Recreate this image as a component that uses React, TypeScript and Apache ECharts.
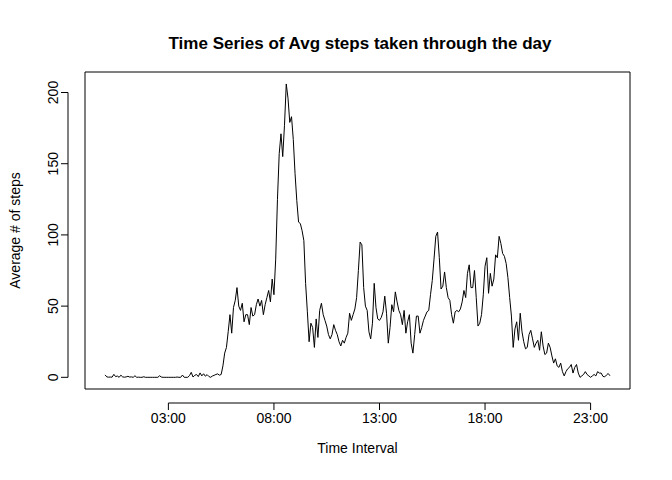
import React, { useEffect, useRef } from 'react';
import * as echarts from 'echarts';

// average steps per 5-minute interval, one row per hour (00:00 .. 23:55)
const avgSteps: number[] = [
  1.7, 0.3, 0.1, 0.2, 0.1, 2.1, 0.5, 0.9, 0, 1.5, 0.3, 0.1,
  0.3, 0.7, 0.2, 0.3, 0, 1.1, 0, 0.1, 0, 0, 0.4, 0,
  0, 0, 0, 0, 0, 0, 0, 1.1, 0.2, 0, 0, 0,
  0, 0, 0, 0, 0, 0.2, 0, 0, 1.6, 0, 0, 0,
  1.2, 3.5, 0.2, 1.4, 2.0, 0.5, 3.1, 1.0, 2.5, 0.8, 1.9, 0.6,
  0, 0.9, 1.4, 2.0, 2.4, 1.5, 2.0, 8, 17, 21, 32, 44,
  31, 49, 54, 63, 50, 47, 52, 39, 44, 44, 37, 49,
  43, 44, 51, 55, 50, 54, 44, 51, 56, 61, 53, 69,
  58, 83, 125, 157, 171, 155, 177, 206, 196, 179, 183, 167,
  143, 124, 109, 108, 103, 96, 66, 46, 25, 38, 35, 21,
  41, 28, 47, 52, 44, 40, 36, 30, 27, 30, 37, 33,
  30, 25, 22, 26, 24, 28, 31, 45, 40, 44, 48, 56,
  75, 95, 93, 63, 50, 47, 32, 27, 38, 66, 49, 41,
  40, 42, 46, 57, 45, 24, 35, 51, 46, 60, 53, 47,
  44, 37, 47, 31, 39, 44, 24, 17, 30, 43, 43, 31,
  35, 40, 43, 46, 47, 58, 68, 83, 99, 102, 84, 62,
  64, 74, 63, 56, 54, 44, 38, 46, 47, 46, 48, 53,
  61, 56, 73, 79, 63, 63, 75, 56, 36, 38, 44, 58,
  78, 84, 59, 73, 64, 69, 86, 84, 99, 94, 87, 85,
  80, 70, 56, 43, 21, 34, 39, 26, 45, 32, 25, 20,
  21, 30, 33, 27, 21, 24, 26, 19, 32, 22, 16, 17,
  24, 21, 15, 10, 13, 8, 7, 10, 4, 1, 4, 6,
  7, 9, 3, 7, 9, 3, 0, 1, 2, 4, 2, 1,
  0, 1, 2, 1, 4, 3, 3, 0.7, 0.3, 1.6, 2.7, 1.1,
];
const xTicks = [180, 480, 780, 1080, 1380]; // minutes of the day
const yTicks = [0, 50, 100, 150, 200];

const pad = (n: number) => String(n).padStart(2, '0');
const fmtTime = (m: number) => `${pad(Math.floor(m / 60))}:${pad(m % 60)}`;

const App: React.FC = () => {
  const ref = useRef<HTMLDivElement>(null);

  useEffect(() => {
    if (!ref.current) return;
    const chart = echarts.init(ref.current, null, { renderer: 'svg' });
    const font = 'Liberation Sans, Arial, sans-serif';
    chart.setOption({
      animation: false,
      title: {
        text: 'Time Series of Avg steps taken through the day',
        left: 355, top: 30, textAlign: 'center',
        textStyle: { fontFamily: font, fontSize: 17, fontWeight: 'bold', color: '#000' },
      },
      grid: { left: 79, right: 42, top: 72, bottom: 91, show: true, borderColor: '#000', borderWidth: 1 },
      xAxis: {
        type: 'value', min: -57, max: 1492, offset: 14,
        name: 'Time Interval', nameLocation: 'middle', nameGap: 38,
        nameTextStyle: { fontFamily: font, fontSize: 14, color: '#000' },
        axisLine: { show: false }, splitLine: { show: false }, axisTick: { show: false },
        axisLabel: { customValues: xTicks, formatter: (v: number) => fmtTime(v), fontFamily: font, fontSize: 14, color: '#000', margin: 8 },
      },
      yAxis: {
        type: 'value', min: -8.2, max: 214.4, offset: 11,
        name: 'Average # of steps', nameLocation: 'middle', nameGap: 52, nameRotate: 90,
        nameTextStyle: { fontFamily: font, fontSize: 14, color: '#000' },
        axisLine: { show: false }, splitLine: { show: false }, axisTick: { show: false },
        axisLabel: { customValues: yTicks, rotate: 90, fontFamily: font, fontSize: 14, color: '#000', margin: 14 },
      },
      series: [{
        type: 'line', symbol: 'none',
        data: avgSteps.map((v, i) => [i * 5, v]),
        lineStyle: { color: '#000', width: 1 },
      }],
    });
    const toPx = (x: number, y: number) => chart.convertToPixel({ gridIndex: 0 }, [x, y]) as number[];
    const xLineY = 480 - 91 + 14;
    const yLineX = 79 - 11;
    const stroke = { stroke: '#000', lineWidth: 1 };
    const graphic: any[] = [
      { type: 'line', shape: { x1: toPx(xTicks[0], 0)[0], y1: xLineY, x2: toPx(xTicks[xTicks.length - 1], 0)[0], y2: xLineY }, style: stroke },
      { type: 'line', shape: { x1: yLineX, y1: toPx(0, yTicks[0])[1], x2: yLineX, y2: toPx(0, yTicks[yTicks.length - 1])[1] }, style: stroke },
    ];
    xTicks.forEach((t) => {
      const px = toPx(t, 0)[0];
      graphic.push({ type: 'line', shape: { x1: px, y1: xLineY, x2: px, y2: xLineY + 7 }, style: stroke });
    });
    yTicks.forEach((t) => {
      const py = toPx(0, t)[1];
      graphic.push({ type: 'line', shape: { x1: yLineX, y1: py, x2: yLineX - 7, y2: py }, style: stroke });
    });
    chart.setOption({ graphic });
    return () => chart.dispose();
  }, []);

  return <div ref={ref} style={{ position: 'absolute', left: 0, top: 0, width: 672, height: 480 }} />;
};

export default App;
